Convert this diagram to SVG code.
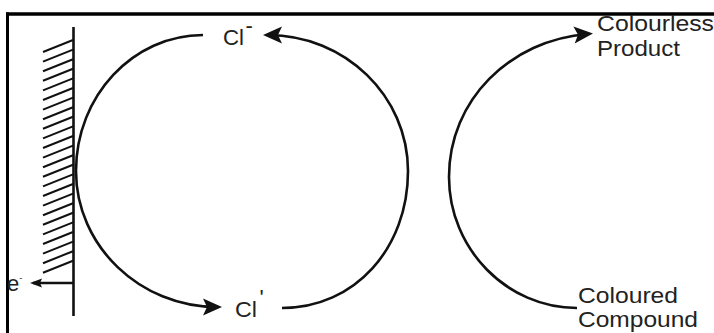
<svg xmlns="http://www.w3.org/2000/svg" width="714" height="333" viewBox="0 0 714 333">
<style>
.lbl{font-family:"Liberation Sans",Arial,sans-serif;font-size:22px;fill:#222}
.arc{fill:none;stroke:#111;stroke-width:2.6}
.hatch{stroke:#111;stroke-width:2}
</style>
<defs>
<marker id="ah" markerUnits="userSpaceOnUse" markerWidth="40" markerHeight="40" refX="0" refY="0" orient="auto" overflow="visible">
<path d="M5,0 L-14,-8.5 L-10,0 L-14,8.5 Z" fill="#111"/>
</marker>
<marker id="ahs" markerUnits="userSpaceOnUse" markerWidth="20" markerHeight="20" refX="0" refY="0" orient="auto" overflow="visible">
<path d="M3,0 L-9,-4.5 L-7,0 L-9,4.5 Z" fill="#111"/>
</marker>
</defs>
<rect width="714" height="333" fill="#fff"/>
<g id="frame">
<line x1="6" y1="14" x2="714" y2="14" stroke="#000" stroke-width="3.5"/>
<line x1="7.5" y1="12.5" x2="7.5" y2="333" stroke="#000" stroke-width="3"/>
</g>
<g id="electrode">
<line x1="73.5" y1="27" x2="73.5" y2="316" stroke="#111" stroke-width="2.6"/>
<g class="hatch">
<line x1="43" y1="52" x2="73" y2="40"/>
<line x1="43" y1="61.6" x2="73" y2="49.6"/>
<line x1="43" y1="71.2" x2="73" y2="59.2"/>
<line x1="43" y1="80.8" x2="73" y2="68.8"/>
<line x1="43" y1="90.4" x2="73" y2="78.4"/>
<line x1="43" y1="100" x2="73" y2="88"/>
<line x1="43" y1="109.6" x2="73" y2="97.6"/>
<line x1="43" y1="119.2" x2="73" y2="107.2"/>
<line x1="43" y1="128.8" x2="73" y2="116.8"/>
<line x1="43" y1="138.4" x2="73" y2="126.4"/>
<line x1="43" y1="148" x2="73" y2="136"/>
<line x1="43" y1="157.6" x2="73" y2="145.6"/>
<line x1="43" y1="167.2" x2="73" y2="155.2"/>
<line x1="43" y1="176.8" x2="73" y2="164.8"/>
<line x1="43" y1="186.4" x2="73" y2="174.4"/>
<line x1="43" y1="196" x2="73" y2="184"/>
<line x1="43" y1="205.6" x2="73" y2="193.6"/>
<line x1="43" y1="215.2" x2="73" y2="203.2"/>
<line x1="43" y1="224.8" x2="73" y2="212.8"/>
<line x1="43" y1="234.4" x2="73" y2="222.4"/>
<line x1="43" y1="244" x2="73" y2="232"/>
<line x1="43" y1="253.6" x2="73" y2="241.6"/>
<line x1="43" y1="263.2" x2="73" y2="251.2"/>
<line x1="43" y1="272.8" x2="73" y2="260.8"/>
</g>
</g>
<g id="connectors">
<path class="arc" d="M73,283 L33,283" stroke-width="2.2" marker-end="url(#ahs)"/>
<path class="arc" d="M203,35 C133,35 76,96 76,171 C76,246 140,307 217,307" marker-end="url(#ah)"/>
<path class="arc" d="M282,308 C355,308 408,248 408,171 C408,96 345,35 268,35" marker-end="url(#ah)"/>
<path class="arc" d="M577,308 C507,308 449,249 449,177 C449,100 510,40 588,34" marker-end="url(#ah)"/>
</g>
<g id="label-e">
<text class="lbl" x="7" y="291" font-size="20">e<tspan font-size="9" dy="-10">-</tspan></text>
</g>
<g id="label-cl-anion">
<text class="lbl" x="223" y="45" textLength="21" lengthAdjust="spacingAndGlyphs">Cl</text>
<text class="lbl" x="245.5" y="33" font-size="8">-</text>
</g>
<g id="label-cl-radical">
<text class="lbl" x="235" y="317" textLength="22" lengthAdjust="spacingAndGlyphs">Cl</text>
<text class="lbl" x="259.5" y="305" font-size="10">'</text>
</g>
<g id="label-colourless">
<text class="lbl" x="597" y="31" textLength="117" lengthAdjust="spacingAndGlyphs">Colourless</text>
<text class="lbl" x="597" y="56" textLength="83" lengthAdjust="spacingAndGlyphs">Product</text>
</g>
<g id="label-coloured">
<text class="lbl" x="578" y="303" textLength="100" lengthAdjust="spacingAndGlyphs">Coloured</text>
<text class="lbl" x="578" y="327" textLength="120" lengthAdjust="spacingAndGlyphs">Compound</text>
</g>
</svg>
